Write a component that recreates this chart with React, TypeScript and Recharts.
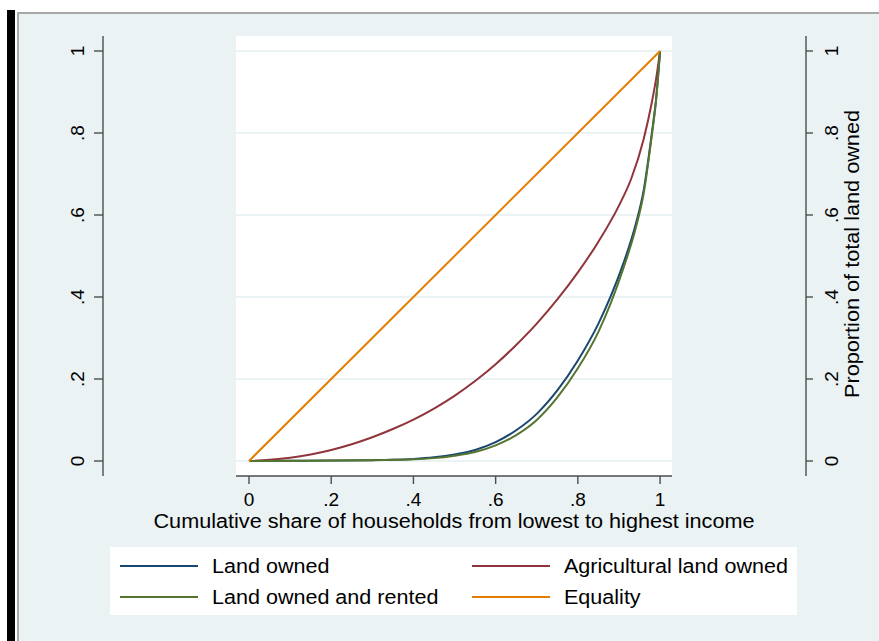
import React from "react";
import { LineChart, Line, XAxis, YAxis, CartesianGrid } from "recharts";

const W = 879;
const H = 641;
const BG = "#eaf2f3";
const AXIS = "#4d4d4d";
const FONT = '"Liberation Sans", Arial, sans-serif';

const TICKS = [0, 0.2, 0.4, 0.6, 0.8, 1];
const X_DOMAIN: [number, number] = [-0.0316, 1.029];
const Y_DOMAIN: [number, number] = [-0.0366, 1.0366];

// cumulative share of households (shared by the two land curves)
const shareX = [0, 0.1, 0.2, 0.3, 0.35, 0.4, 0.45, 0.5, 0.55, 0.6, 0.65, 0.7, 0.75, 0.8, 0.85, 0.88, 0.91, 0.94, 0.96, 0.98, 0.99, 1];
const landOwnedY = [0, 0.0005, 0.001, 0.002, 0.003, 0.005, 0.009, 0.016, 0.027, 0.046, 0.075, 0.115, 0.172, 0.245, 0.335, 0.402, 0.48, 0.575, 0.66, 0.8, 0.88, 1];
const rentedY = [0, 0.0005, 0.001, 0.002, 0.003, 0.004, 0.007, 0.013, 0.022, 0.038, 0.063, 0.1, 0.155, 0.226, 0.315, 0.385, 0.468, 0.565, 0.652, 0.795, 0.877, 1];

const agriX = [0, 0.05, 0.1, 0.15, 0.2, 0.25, 0.3, 0.35, 0.4, 0.45, 0.5, 0.55, 0.6, 0.65, 0.7, 0.75, 0.8, 0.85, 0.9, 0.93, 0.96, 0.98, 0.99, 1];
const agriY = [0, 0.003, 0.008, 0.016, 0.027, 0.041, 0.058, 0.078, 0.101, 0.128, 0.159, 0.195, 0.236, 0.283, 0.335, 0.394, 0.46, 0.535, 0.623, 0.689, 0.785, 0.875, 0.93, 1];

const equalityX = [0, 1];
const equalityY = [0, 1];

const toPoints = (xs: number[], ys: number[]) => xs.map((x, i) => ({ x, y: ys[i] }));

const SERIES = [
  { name: "Land owned", color: "#1a476f", data: toPoints(shareX, landOwnedY) },
  { name: "Agricultural land owned", color: "#90353b", data: toPoints(agriX, agriY) },
  { name: "Land owned and rented", color: "#55752f", data: toPoints(shareX, rentedY) },
  { name: "Equality", color: "#e37e00", data: toPoints(equalityX, equalityY) },
];

const fmt = (v: number) => (v === 0 ? "0" : v === 1 ? "1" : String(v).replace(/^0/, ""));

const SideTick = ({ x, y, payload, shift }: any) => (
  <g transform={`translate(${x + shift},${y}) rotate(-90)`}>
    <text textAnchor="middle" dy="0.36em" fontSize={19} fontFamily={FONT} fill="#000">
      {fmt(payload.value)}
    </text>
  </g>
);

const RightTitle = (props: any) => {
  const vb = props.viewBox || { x: 806, y: 36, width: 60, height: 440 };
  const cx = vb.x + 45;
  const cy = vb.y + vb.height / 2 - 2;
  return (
    <g transform={`translate(${cx},${cy}) rotate(-90)`}>
      <text textAnchor="middle" dy="0.36em" fontSize={21} fontFamily={FONT} fill="#000" textLength={288} lengthAdjust="spacingAndGlyphs">
        Proportion of total land owned
      </text>
    </g>
  );
};

const BottomTitle = (props: any) => {
  const vb = props.viewBox || { x: 236, y: 476, width: 436, height: 60 };
  return (
    <text
      x={vb.x + vb.width / 2}
      y={vb.y + 52}
      textAnchor="middle"
      fontSize={20}
      fontFamily={FONT}
      fill="#000"
      textLength={601}
      lengthAdjust="spacingAndGlyphs"
    >
      Cumulative share of households from lowest to highest income
    </text>
  );
};

export default function App() {
  return (
    <div style={{ position: "absolute", left: 0, top: 0, width: W, height: H, background: "#fff", overflow: "hidden", fontFamily: FONT }}>
      {/* frame */}
      <div style={{ position: "absolute", left: 7, top: 10, width: 8, height: H - 10, background: "#000" }} />
      <div style={{ position: "absolute", left: 17, top: 12, right: 0, bottom: 0, background: BG, borderLeft: "2px solid #a8a8a8", borderTop: "2px solid #a8a8a8" }} />

      {/* outer axes */}
      <div style={{ position: "absolute", left: 0, top: 0 }}>
        <LineChart width={W} height={H} data={SERIES[3].data} margin={{ top: 36, right: 13, bottom: 165, left: 43 }}>
          <XAxis dataKey="x" type="number" domain={[0, 1]} hide />
          <YAxis
            yAxisId="left"
            orientation="left"
            width={60}
            type="number"
            domain={Y_DOMAIN}
            ticks={TICKS}
            allowDataOverflow
            tickSize={9}
            stroke={AXIS}
            strokeWidth={1.4}
            tick={<SideTick shift={-15} />}
          />
          <YAxis
            yAxisId="right"
            orientation="right"
            width={60}
            type="number"
            domain={Y_DOMAIN}
            ticks={TICKS}
            allowDataOverflow
            tickSize={7}
            stroke={AXIS}
            strokeWidth={1.4}
            tick={<SideTick shift={16.5} />}
            label={{ content: RightTitle }}
          />
        </LineChart>
      </div>

      {/* plot */}
      <div style={{ position: "absolute", left: 0, top: 0 }}>
        <LineChart width={W} height={H} margin={{ top: 36, right: 207, bottom: 105, left: 236 }}>
          <CartesianGrid vertical={false} fill="#fff" stroke={BG} strokeWidth={2} horizontalValues={TICKS} />
          <XAxis
            dataKey="x"
            type="number"
            domain={X_DOMAIN}
            ticks={TICKS}
            allowDataOverflow
            tickFormatter={fmt}
            tickSize={8}
            tickMargin={9}
            height={60}
            stroke={AXIS}
            strokeWidth={1.4}
            tick={{ fill: "#000", fontSize: 19, fontFamily: FONT }}
            label={{ content: BottomTitle }}
          />
          <YAxis type="number" domain={Y_DOMAIN} ticks={TICKS} allowDataOverflow hide />
          {SERIES.map((s) => (
            <Line
              key={s.name}
              data={s.data}
              dataKey="y"
              type="monotone"
              stroke={s.color}
              strokeWidth={2}
              dot={false}
              activeDot={false}
              isAnimationActive={false}
            />
          ))}
        </LineChart>
      </div>

      {/* legend */}
      <div style={{ position: "absolute", left: 110, top: 547, width: 687, height: 68, background: "#fff" }}>
        {SERIES.map((s, i) => {
          const col = i % 2;
          const row = Math.floor(i / 2);
          return (
            <div
              key={s.name}
              style={{ position: "absolute", left: 10 + col * 352, top: 4 + row * 31, height: 30, display: "flex", alignItems: "center", whiteSpace: "nowrap" }}
            >
              <span style={{ display: "inline-block", width: 78, height: 2.5, background: s.color, marginRight: 14 }} />
              <span style={{ fontSize: 20, color: "#000", display: "inline-block", transform: "scaleX(1.077)", transformOrigin: "left center" }}>{s.name}</span>
            </div>
          );
        })}
      </div>
    </div>
  );
}
